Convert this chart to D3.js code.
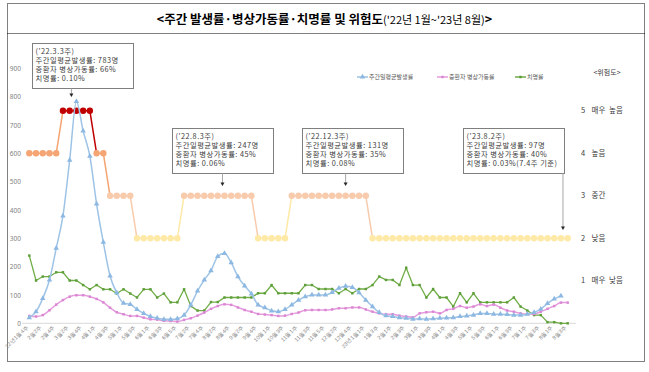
<!DOCTYPE html>
<html>
<head>
<meta charset="utf-8">
<script src="https://cdn.jsdelivr.net/npm/d3@7"></script>
<style>
  body { margin: 0; background: #fff; }
  svg { font-family: "Noto Sans CJK KR", "Noto Sans", sans-serif; }
</style>
</head>
<body>
<div id="chart-area"></div>
<script>
// week labels ('22.1월4주 ~ '23.8월3주)
const weeks = [
  "22년1월4주",
  "2월1주", "2월2주", "2월3주", "2월4주",
  "3월1주", "3월2주", "3월3주", "3월4주", "3월5주",
  "4월1주", "4월2주", "4월3주", "4월4주",
  "5월1주", "5월2주", "5월3주", "5월4주",
  "6월1주", "6월2주", "6월3주", "6월4주", "6월5주",
  "7월1주", "7월2주", "7월3주", "7월4주",
  "8월1주", "8월2주", "8월3주", "8월4주",
  "9월1주", "9월2주", "9월3주", "9월4주", "9월5주",
  "10월1주", "10월2주", "10월3주", "10월4주",
  "11월1주", "11월2주", "11월3주", "11월4주", "11월5주",
  "12월1주", "12월2주", "12월3주", "12월4주", "12월5주",
  "23년1월1주", "1월2주", "1월3주", "1월4주",
  "2월1주", "2월2주", "2월3주", "2월4주",
  "3월1주", "3월2주", "3월3주", "3월4주",
  "4월1주", "4월2주", "4월3주", "4월4주",
  "5월1주", "5월2주", "5월3주", "5월4주",
  "6월1주", "6월2주", "6월3주", "6월4주",
  "7월1주", "7월2주", "7월3주", "7월4주",
  "8월1주", "8월2주", "8월3주"
]

// 주간일평균발생률
const incidence = [20, 41, 88, 153, 265, 379, 576, 783, 679, 590,
  421, 286, 167, 108, 71, 67, 49, 35, 24, 18,
  14, 14, 16, 29, 65, 114, 153, 186, 236, 247,
  214, 165, 132, 104, 65, 55, 44, 41, 49, 65,
  82, 94, 100, 100, 100, 109, 124, 131, 127, 108,
  82, 59, 38, 27, 24, 20, 18, 15, 16, 15,
  16, 18, 19, 20, 24, 26, 29, 35, 35, 32,
  32, 31, 29, 29, 32, 38, 50, 70, 86, 97]

// 중환자 병상가동률 (plotted values)
const icuRate = [26, 24, 29, 46, 66, 82, 94, 99, 99, 94,
  86, 74, 55, 39, 32, 26, 26, 20, 14, 13,
  9, 8, 6, 12, 18, 27, 38, 51, 61, 67,
  65, 56, 47, 41, 33, 31, 29, 26, 27, 33,
  38, 46, 47, 47, 47, 49, 53, 53, 56, 56,
  49, 41, 35, 32, 32, 27, 24, 21, 35, 39,
  41, 35, 47, 51, 61, 55, 59, 67, 61, 66,
  55, 45, 41, 35, 33, 33, 41, 51, 61, 73, 73]

// 치명률 (plotted values)
const fatality = [239, 151, 165, 165, 180, 180, 151, 151, 135, 120,
  135, 120, 120, 105, 120, 105, 91, 120, 120, 91,
  105, 74, 74, 120, 61, 45, 45, 75, 75, 91,
  91, 91, 91, 91, 106, 106, 135, 106, 106, 106,
  106, 135, 135, 121, 121, 121, 106, 121, 106, 121,
  121, 135, 165, 153, 153, 135, 196, 135, 135, 91,
  121, 91, 91, 59, 106, 74, 106, 74, 74, 74,
  74, 74, 91, 59, 45, 29, 29, 4, 4, 0, 0]

// 위험도 1~5
const riskLevel = [4, 4, 4, 4, 4, 5, 5, 5, 5, 5,
  4, 4, 3, 3, 3, 3, 2, 2, 2, 2,
  2, 2, 2, 3, 3, 3, 3, 3, 3, 3,
  3, 3, 3, 3, 2, 2, 2, 2, 2, 3,
  3, 3, 3, 3, 3, 3, 3, 3, 3, 3,
  3, 2, 2, 2, 2, 2, 2, 2, 2, 2,
  2, 2, 2, 2, 2, 2, 2, 2, 2, 2,
  2, 2, 2, 2, 2, 2, 2, 2, 2, 2, 2]

const riskNames = ["매우 낮음", "낮음", "중간", "높음", "매우 높음"]
const yTicks = [0, 100, 200, 300, 400, 500, 600, 700, 800, 900]
const seriesNames = ["주간일평균발생률", "중환자 병상가동률", "치명률"]

const notes = [
  { week: 7, dx: -5, bx: 32, by: 43, tipY: 97,
    lines: ["('22.3.3주)", "주간일평균발생률: 783명", "중환자 병상가동률: 66%", "치명률: 0.10%"] },
  { week: 29, dx: -2, bx: 172, by: 128, tipY: 186,
    lines: ["('22.8.3주)", "주간일평균발생률: 247명", "중환자 병상가동률: 45%", "치명률: 0.06%"] },
  { week: 47, dx: 0, bx: 302, by: 128, tipY: 186,
    lines: ["('22.12.3주)", "주간일평균발생률: 131명", "중환자 병상가동률: 35%", "치명률: 0.08%"] },
  { week: 79, dx: 2, bx: 463, by: 128, tipY: 230,
    lines: ["('23.8.2주)", "주간일평균발생률: 97명", "중환자 병상가동률: 40%", "치명률: 0.03%(7.4주 기준)"] }
]

const width = 649, height = 372
const blue = "#9DC3E6", pink = "#E59BDD", green = "#70AD47"
const riskColor = { 5: "#C00000", 4: "#F5A473", 3: "#F8CBAD", 2: "#FFE9A6", 1: "#E2F0D9" }

const svg = d3.select("#chart-area").append("svg")
  .attr("width", width).attr("height", height)

// dotted frame + title divider
svg.append("rect")
  .attr("x", 7.5).attr("y", 3.5).attr("width", 637).attr("height", 358)
  .attr("fill", "none").attr("stroke", "#000").attr("stroke-dasharray", "1,1")
svg.append("line")
  .attr("x1", 7.5).attr("x2", 644.5).attr("y1", 33.5).attr("y2", 33.5)
  .attr("stroke", "#000").attr("stroke-dasharray", "1,1")

const title = svg.append("text")
  .attr("x", width / 2).attr("y", 23.5)
  .attr("text-anchor", "middle").attr("fill", "#000")
title.append("tspan").attr("font-size", 12.5).attr("font-weight", "bold")
  .text("<주간 발생률·병상가동률·치명률 및 위험도")
title.append("tspan").attr("font-size", 11)
  .text("('22년 1월~'23년 8월)")
title.append("tspan").attr("font-size", 12.5).attr("font-weight", "bold").text(">")

const xScale = d3.scalePoint()
  .domain(d3.range(weeks.length))
  .range([29.3, 567.7])

const yScale = d3.scaleLinear()
  .domain([0, 900])
  .range([323.3, 68.3])

// risk level 1~5 sits on the same axis at 150 per step
const riskScale = d3.scaleLinear()
  .domain([0, 6])
  .range([yScale(0), yScale(900)])

// y axis
const yAxis = svg.append("g")
  .attr("transform", "translate(21,0)")
  .call(d3.axisLeft(yScale).tickValues(yTicks).tickSize(0).tickPadding(0))
yAxis.select(".domain").remove()
yAxis.selectAll("text")
  .attr("font-size", 6.5).attr("fill", "#7F7F7F")
  .attr("font-family", "Noto Sans, sans-serif")

// baseline
svg.append("line")
  .attr("x1", 22).attr("x2", 576)
  .attr("y1", yScale(0)).attr("y2", yScale(0))
  .attr("stroke", "#D9D9D9").attr("stroke-width", 1)

// x axis labels, every 2nd week
const xAxis = svg.append("g")
  .attr("transform", `translate(0,${yScale(0)})`)
  .call(d3.axisBottom(xScale)
    .tickValues(d3.range(0, weeks.length, 2))
    .tickFormat(i => weeks[i])
    .tickSize(0).tickPadding(0))
xAxis.select(".domain").remove()
xAxis.selectAll("text")
  .attr("font-size", 5.5).attr("fill", "#7F7F7F")
  .attr("text-anchor", "end")
  .attr("dy", 0)
  .attr("transform", "translate(-1,4) rotate(-45)")

// risk level line: each segment takes the colour of its start week
const riskIdx = d3.range(riskLevel.length)
svg.append("g").selectAll("line")
  .data(riskIdx.slice(0, -1))
  .join("line")
  .attr("x1", i => xScale(i)).attr("x2", i => xScale(i + 1))
  .attr("y1", i => riskScale(riskLevel[i])).attr("y2", i => riskScale(riskLevel[i + 1]))
  .attr("stroke", i => riskColor[riskLevel[i]])
  .attr("stroke-width", 1.5)
svg.append("g").selectAll("circle")
  .data(riskIdx)
  .join("circle")
  .attr("cx", i => xScale(i))
  .attr("cy", i => riskScale(riskLevel[i]))
  .attr("r", 3.2)
  .attr("fill", i => riskColor[riskLevel[i]])

function drawSeries(values, color, markColor, symbolType, symbolSize, curve, lw) {
  const line = d3.line()
    .x((d, i) => xScale(i))
    .y(d => yScale(d))
    .curve(curve)
  svg.append("path")
    .attr("d", line(values))
    .attr("fill", "none")
    .attr("stroke", color)
    .attr("stroke-width", lw)
  svg.append("g").selectAll("path")
    .data(values)
    .join("path")
    .attr("transform", (d, i) => `translate(${xScale(i)},${yScale(d)})`)
    .attr("d", d3.symbol(symbolType, symbolSize))
    .attr("fill", markColor)
}

drawSeries(fatality, green, "#5E9E3A", d3.symbolSquare, 6, d3.curveLinear, 1.3)
drawSeries(icuRate, pink, "#DA86D2", d3.symbolSquare, 6, d3.curveMonotoneX, 1.5)
drawSeries(incidence, blue, "#8DB8E2", d3.symbolTriangle, 13, d3.curveMonotoneX, 1.5)

// legend
const legendItems = [
  { name: seriesNames[0], color: blue, mark: "#8DB8E2", sym: d3.symbolTriangle, size: 13, x: 357 },
  { name: seriesNames[1], color: pink, mark: "#DA86D2", sym: d3.symbolSquare, size: 6, x: 437 },
  { name: seriesNames[2], color: green, mark: "#5E9E3A", sym: d3.symbolSquare, size: 6, x: 515 }
]
const legend = svg.append("g").attr("transform", "translate(0,77)")
legendItems.forEach(d => {
  legend.append("line")
    .attr("x1", d.x).attr("x2", d.x + 11)
    .attr("stroke", d.color).attr("stroke-width", 1.5)
  legend.append("path")
    .attr("transform", `translate(${d.x + 5.5},0)`)
    .attr("d", d3.symbol(d.sym, d.size))
    .attr("fill", d.mark)
  legend.append("text")
    .attr("x", d.x + 12).attr("y", 2.2)
    .attr("font-size", 6).attr("fill", "#595959")
    .text(d.name)
})

// right-hand risk scale labels
svg.append("text")
  .attr("x", 607).attr("y", 74.5)
  .attr("text-anchor", "middle")
  .attr("font-size", 7).attr("fill", "#404040")
  .text("<위험도>")
const riskLabels = svg.append("g").selectAll("g")
  .data(d3.range(1, 6))
  .join("g")
  .attr("transform", l => `translate(0,${riskScale(l) + 2.6})`)
riskLabels.append("text")
  .attr("x", 581).attr("font-size", 7.5).attr("fill", "#404040")
  .text(l => l)
riskLabels.append("text")
  .attr("x", 591.5).attr("font-size", 7.5).attr("fill", "#404040")
  .attr("word-spacing", 2)
  .text(l => riskNames[l - 1])

// annotation call-outs
const boxW = 101, boxH = 45, lineH = 9
notes.forEach(n => {
  const ax = xScale(n.week) + n.dx
  const g = svg.append("g")
  g.append("rect")
    .attr("x", n.bx + 0.5).attr("y", n.by + 0.5)
    .attr("width", boxW).attr("height", boxH)
    .attr("fill", "#fff").attr("stroke", "#7F7F7F").attr("stroke-width", 1)
  g.append("line")
    .attr("x1", ax).attr("x2", ax)
    .attr("y1", n.by + boxH + 0.5).attr("y2", n.tipY - 3)
    .attr("stroke", "#A6A6A6").attr("stroke-width", 1)
  g.append("path")
    .attr("d", `M${ax - 2},${n.tipY - 3.5}L${ax + 2},${n.tipY - 3.5}L${ax},${n.tipY}Z`)
    .attr("fill", "#262626")
  g.selectAll("text")
    .data(n.lines)
    .join("text")
    .attr("x", n.bx + 3.5)
    .attr("y", (d, i) => n.by + 10.5 + i * lineH)
    .attr("font-size", 7.3).attr("fill", "#404040")
    .attr("letter-spacing", 0.5)
    .text(d => d)
})
</script>
</body>
</html>
